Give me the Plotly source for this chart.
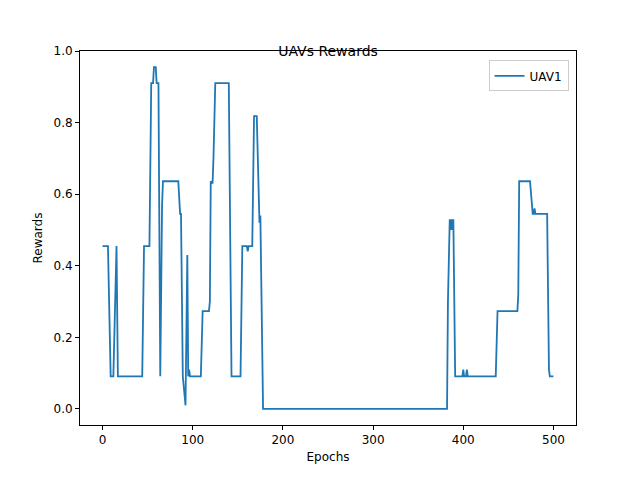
import plotly.graph_objects as go

epochs = [0, 6, 9, 12, 15.5, 17, 44, 45, 46, 52, 54, 56, 57, 59, 60, 62, 64, 66, 67, 84, 86, 87, 89, 92, 94, 95, 96, 97,
          109, 111, 118, 119, 120, 122, 123, 125, 140, 143, 153, 155, 160, 161, 162, 166, 168, 171, 174, 175, 176, 178,
          382, 383, 385, 386, 387, 388, 389, 391, 399, 400, 401, 403, 404, 405, 436, 438, 460, 461, 462, 474, 477, 478,
          479, 480, 493, 495, 496, 500]
rewards = [0.455, 0.455, 0.091, 0.091, 0.455, 0.091, 0.091, 0.38, 0.455, 0.455, 0.91, 0.91, 0.955, 0.955, 0.91, 0.91, 0.091, 0.57, 0.636, 0.636, 0.545, 0.545, 0.091, 0.01, 0.43, 0.091, 0.11, 0.091,
           0.091, 0.273, 0.273, 0.3, 0.636, 0.63, 0.7, 0.91, 0.91, 0.091, 0.091, 0.455, 0.455, 0.44, 0.455, 0.455, 0.818, 0.818, 0.52, 0.54, 0.3, 0.0,
           0.0, 0.3, 0.53, 0.5, 0.53, 0.5, 0.53, 0.091, 0.091, 0.11, 0.091, 0.091, 0.11, 0.091, 0.091, 0.273, 0.273, 0.32, 0.636, 0.636, 0.545, 0.545,
           0.56, 0.545, 0.545, 0.11, 0.091, 0.091]

fig = go.Figure(go.Scatter(x=epochs, y=rewards, mode="lines", name="UAV1",
                           line=dict(color="#1f77b4", width=1.8)))
axis = dict(showgrid=False, zeroline=False, showline=True, linecolor="black", mirror=True,
            ticks="outside", ticklen=4, tickcolor="black", tickfont=dict(size=12, color="black"))
fig.update_layout(
    width=640, height=480, paper_bgcolor="white", plot_bgcolor="white",
    margin=dict(l=72, r=72, t=43, b=63),
    font=dict(family="DejaVu Sans", color="black"),
    title=dict(text="UAVs Rewards", x=0.5, xanchor="center", y=0.91, yanchor="middle", font=dict(size=14)),
    xaxis=dict(axis, range=[-25, 525], tickvals=[0, 100, 200, 300, 400, 500],
               title=dict(text="Epochs", font=dict(size=12), standoff=6)),
    yaxis=dict(axis, range=[-0.045, 1.0], tickvals=[0, 0.2, 0.4, 0.6, 0.8, 1.0], tickformat=".1f",
               title=dict(text="Rewards", font=dict(size=12), standoff=8)),
    showlegend=True,
    legend=dict(x=0.985, y=0.975, xanchor="right", yanchor="top", bgcolor="white",
                bordercolor="#cccccc", borderwidth=1, font=dict(size=12)),
)
fig.write_html("out.html")
